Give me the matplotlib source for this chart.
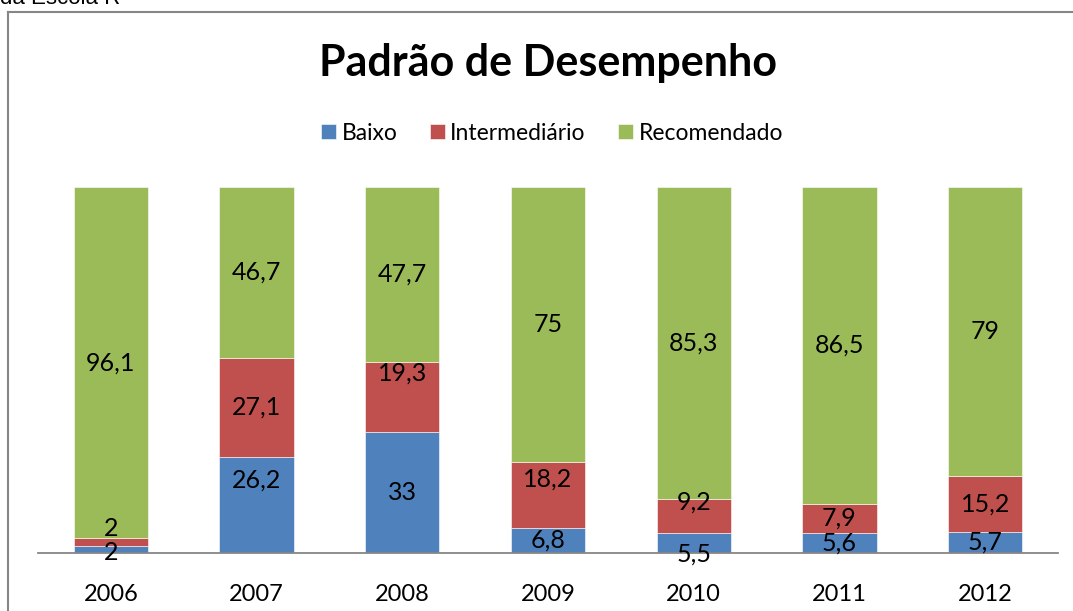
import numpy as np
import matplotlib
matplotlib.use("Agg")
import matplotlib.pyplot as plt
from matplotlib.lines import Line2D

anos = ['2006', '2007', '2008', '2009', '2010', '2011', '2012']
baixo = [2, 26.2, 33, 6.8, 5.5, 5.6, 5.7]
intermediario = [2, 27.1, 19.3, 18.2, 9.2, 7.9, 15.2]
recomendado = [96.1, 46.7, 47.7, 75, 85.3, 86.5, 79]

series = [('Baixo', baixo, '#4F81BD'),
          ('Intermediário', intermediario, '#C0504D'),
          ('Recomendado', recomendado, '#9BBB59')]

# labels that were dragged off the segment centre in the original (data units)
desloc = {(0, 0): -0.9, (0, 1): 3.8, (1, 0): 6.9, (2, 1): 6.5,
          (3, 1): 4.3, (4, 0): -3.0, (4, 1): 3.8}

plt.rcParams['font.family'] = ['Lato', 'DejaVu Sans']

fig = plt.figure(figsize=(10.73, 6.11), dpi=100)
ax = fig.add_axes([38/1073, 1-553/611, 1020/1073, 366/611])

x = np.arange(len(anos))
# 100% stacked: each column scaled to its own total
totais = np.array(baixo) + np.array(intermediario) + np.array(recomendado)
base = np.zeros(len(anos))
for k, (nome, vals, cor) in enumerate(series):
    vals = np.array(vals, dtype=float)
    pct = vals / totais * 100
    ax.bar(x, pct, 0.51, bottom=base, color=cor, label=nome,
           edgecolor='white', linewidth=0.4)
    for i, v in enumerate(vals):
        y = base[i] + pct[i] / 2 + desloc.get((i, k), 0)
        txt = ('%g' % v).replace('.', ',')
        ax.text(x[i], y, txt, ha='center', va='center', fontsize=18, color='black')
    base += pct

ax.set_xlim(-0.5, 6.5)
ax.set_ylim(0, 100)
ax.set_xticks(x)
ax.set_xticklabels(anos, fontsize=17)
ax.tick_params(axis='x', length=0, pad=22)
ax.set_yticks([])
for s in ['top', 'right', 'left']:
    ax.spines[s].set_visible(False)
ax.spines['bottom'].set_color('#868686')
ax.spines['bottom'].set_linewidth(1.3)

fig.text(548/1073, 1-63/611, 'Padrão de Desempenho', ha='center', va='center',
         fontsize=31, fontweight='bold')

leg = fig.legend(loc='center', bbox_to_anchor=(552/1073, 1-133/611), ncol=3,
                 frameon=False, fontsize=16.5, handlelength=0.65, handleheight=0.65,
                 handletextpad=0.25, columnspacing=1.4)

# outer frame of the original chart box
fig.add_artist(Line2D([8/1073, 8/1073], [0, 1-12/611], transform=fig.transFigure,
                      color='#868686', linewidth=1.5))
fig.add_artist(Line2D([8/1073, 1], [1-12/611, 1-12/611], transform=fig.transFigure,
                      color='#868686', linewidth=1.5))

fig.text(0/1073, 1-4/611, 'da Escola R', ha='left', va='baseline',
         fontsize=16, family='Liberation Sans')

fig.savefig('out.png', dpi=100)
